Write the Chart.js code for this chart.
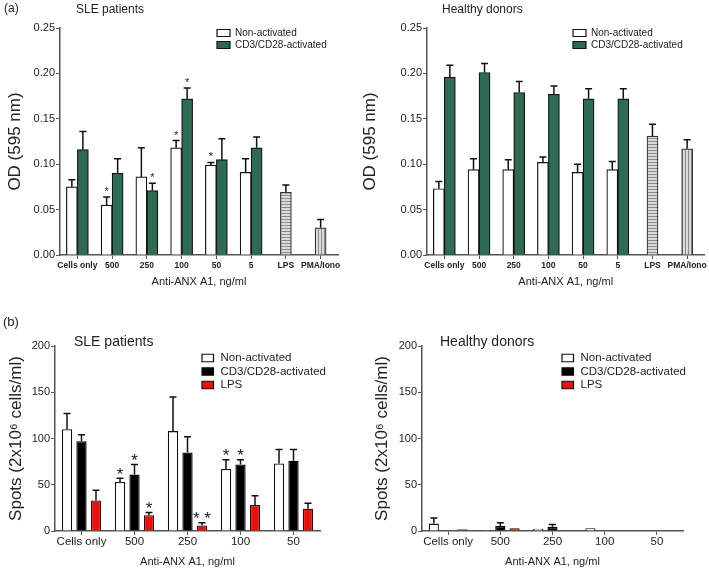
<!DOCTYPE html>
<html>
<head>
<meta charset="utf-8">
<script src="https://cdn.jsdelivr.net/npm/chart.js@4.4.0/dist/chart.umd.min.js"></script>
<style>
    body { margin: 0; background: #fff; }
    #fig { position: relative; width: 709px; height: 574px; }
    #fig canvas { position: absolute; }
</style>
</head>
<body>
<div id="fig">
    <canvas id="odSle" width="355" height="290" style="left:0;top:0"></canvas>
    <canvas id="odHealthy" width="354" height="290" style="left:355px;top:0"></canvas>
    <canvas id="spotSle" width="355" height="284" style="left:0;top:290px"></canvas>
    <canvas id="spotHealthy" width="354" height="284" style="left:355px;top:290px"></canvas>
</div>
<script>
// Categories
const odLabels = ['Cells only', '500', '250', '100', '50', '5', 'LPS', 'PMA/Iono'];
const spotLabels = ['Cells only', '500', '250', '100', '50'];

// (a) OD 595 nm - SLE patients
const sleOdNon = [0.075, 0.055, 0.086, 0.118, 0.099, 0.091, null, null];
const sleOdNonErr = [0.008, 0.009, 0.032, 0.008, 0.003, 0.015, null, null];
const sleOdNonStars = ['', '*', '', '*', '*', '', '', ''];
const sleOdAct = [0.116, 0.090, 0.071, 0.172, 0.105, 0.118, null, null];
const sleOdActErr = [0.020, 0.016, 0.008, 0.012, 0.023, 0.012, null, null];
const sleOdActStars = ['', '', '*', '*', '', '', '', ''];
const sleOdCtrl = [null, null, null, null, null, null, 0.069, 0.030];
const sleOdCtrlErr = [null, null, null, null, null, null, 0.008, 0.009];

// (a) OD 595 nm - healthy donors
const hdOdNon = [0.073, 0.094, 0.094, 0.102, 0.091, 0.094, null, null];
const hdOdNonErr = [0.008, 0.012, 0.011, 0.006, 0.009, 0.009, null, null];
const hdOdAct = [0.196, 0.201, 0.179, 0.177, 0.172, 0.172, null, null];
const hdOdActErr = [0.013, 0.010, 0.012, 0.009, 0.011, 0.011, null, null];
const hdOdCtrl = [null, null, null, null, null, null, 0.131, 0.117];
const hdOdCtrlErr = [null, null, null, null, null, null, 0.013, 0.010];

// (b) Spots - SLE patients
const sleSpotNon = [110, 53, 108, 67, 73];
const sleSpotNonErr = [17, 4, 37, 10, 15];
const sleSpotNonStars = ['', '*', '', '*', ''];
const sleSpotAct = [97, 61, 85, 72, 76];
const sleSpotActErr = [7, 11, 17, 5, 12];
const sleSpotActStars = ['', '*', '', '*', ''];
const sleSpotLps = [33, 17, 6, 28, 24];
const sleSpotLpsErr = [11, 3, 3, 10, 6];
const sleSpotLpsStars = ['', '*', '**', '', ''];

// (b) Spots - healthy donors
const hdSpotNon = [8, 1, 2.5, 3, 0];
const hdSpotNonErr = [6, 0, 0, 0, 0];
const hdSpotAct = [0, 5.5, 4.5, 0, 0];
const hdSpotActErr = [0, 3.5, 2.5, 0, 0];
const hdSpotLps = [2, 3, 0, 0, 0];
const hdSpotLpsErr = [0, 0, 0, 0, 0];

const odTicks = [0, 0.05, 0.10, 0.15, 0.20, 0.25];
const spotTicks = [0, 50, 100, 150, 200];

const FONT = '"Liberation Sans", Arial, sans-serif';
const INK = '#222';
const AXIS = '#555';
const GREEN = '#2f6b52';
const RED = '#e3140f';

Chart.defaults.font.family = FONT;
Chart.defaults.color = INK;

// Upper error bars + significance stars
const errorBars = {
    id: 'errorBars',
    afterDatasetsDraw(chart, args, opts) {
        const ctx = chart.ctx;
        const yScale = chart.scales.y;
        ctx.save();
        chart.data.datasets.forEach((ds, i) => {
            const meta = chart.getDatasetMeta(i);
            meta.data.forEach((bar, j) => {
                const v = ds.data[j];
                if (v == null) return;
                let top = bar.y;
                const e = ds.errors ? ds.errors[j] : 0;
                if (e) {
                    top = yScale.getPixelForValue(v + e);
                    ctx.strokeStyle = '#111';
                    ctx.lineWidth = 1.5;
                    ctx.beginPath();
                    ctx.moveTo(bar.x, bar.y);
                    ctx.lineTo(bar.x, top);
                    ctx.moveTo(bar.x - opts.cap, top);
                    ctx.lineTo(bar.x + opts.cap, top);
                    ctx.stroke();
                }
                const star = ds.stars ? ds.stars[j] : '';
                if (star) {
                    ctx.font = opts.starFont;
                    ctx.fillStyle = INK;
                    ctx.textAlign = 'center';
                    ctx.textBaseline = 'alphabetic';
                    ctx.fillText(star.split('').join(' '), bar.x, top + opts.starDy);
                }
            });
        });
        ctx.restore();
    }
};

// Panel letters, titles and the legend box
const panelDecor = {
    id: 'panelDecor',
    afterDraw(chart, args, opts) {
        const ctx = chart.ctx;
        ctx.save();
        ctx.textAlign = 'left';
        ctx.textBaseline = 'middle';
        ctx.fillStyle = INK;
        (opts.texts || []).forEach(t => {
            ctx.font = t.font;
            ctx.fillText(t.text, t.x, t.y);
        });
        const lg = opts.legend;
        if (lg) {
            lg.items.forEach((it, k) => {
                const cy = lg.y + k * lg.rowH;
                ctx.fillStyle = it.fill;
                ctx.strokeStyle = '#111';
                ctx.lineWidth = 1.2;
                ctx.beginPath();
                ctx.rect(lg.x, cy - lg.boxH / 2, lg.boxW, lg.boxH);
                ctx.fill();
                ctx.stroke();
                ctx.fillStyle = INK;
                ctx.font = lg.font;
                ctx.fillText(it.label, lg.x + lg.boxW + lg.gap, cy);
            });
        }
        ctx.restore();
    }
};

function stripes(ctx, vertical) {
    const c = document.createElement('canvas');
    c.width = 3;
    c.height = 3;
    const g = c.getContext('2d');
    g.fillStyle = '#dadada';
    g.fillRect(0, 0, 3, 3);
    g.fillStyle = '#8c8c8c';
    if (vertical) g.fillRect(0, 0, 1, 3);
    else g.fillRect(0, 0, 3, 1);
    return ctx.createPattern(c, 'repeat');
}

function axisScales(cfg) {
    return {
        x: {
            type: 'category',
            offset: true,
            afterFit: s => { s.height = cfg.xHeight; },
            grid: { display: true, offset: false, drawOnChartArea: false, drawTicks: true, tickLength: 4, color: AXIS },
            border: { display: true, color: AXIS, width: 1.5 },
            ticks: { font: cfg.xFont, padding: cfg.xPad, color: INK, maxRotation: 0, autoSkip: false },
            title: { display: true, text: 'Anti-ANX A1, ng/ml', font: { size: 11 }, color: INK, padding: { top: 0, bottom: cfg.xTitlePad } }
        },
        y: {
            min: cfg.ticks[0],
            max: cfg.ticks[cfg.ticks.length - 1],
            afterFit: s => { s.width = cfg.yWidth; },
            afterBuildTicks: s => { s.ticks = cfg.ticks.map(v => ({ value: v })); },
            grid: { display: true, drawOnChartArea: false, drawTicks: true, tickLength: 4, color: AXIS },
            border: { display: true, color: AXIS, width: 1.5 },
            ticks: { font: { size: 11 }, padding: 1, color: INK, callback: cfg.tickFmt },
            title: { display: true, text: cfg.yTitle, font: { size: 17 }, color: INK, padding: { top: cfg.yTitlePad, bottom: 0 } }
        }
    };
}

function odChart(id, non, nonErr, nonStars, act, actErr, actStars, ctrl, ctrlErr, cfg) {
    const ctx = document.getElementById(id).getContext('2d');
    const ctrlFill = odLabels.map(l => l === 'PMA/Iono' ? stripes(ctx, true) : stripes(ctx, false));
    const common = { barThickness: 11, skipNull: true, borderWidth: 1.2, borderSkipped: 'start' };
    return new Chart(ctx, {
        type: 'bar',
        data: {
            labels: odLabels,
            datasets: [
                { label: 'Non-activated', data: non, errors: nonErr, stars: nonStars, backgroundColor: '#fff', borderColor: '#111', ...common },
                { label: 'CD3/CD28-activated', data: act, errors: actErr, stars: actStars, backgroundColor: GREEN, borderColor: '#111', ...common },
                { label: 'Controls', data: ctrl, errors: ctrlErr, backgroundColor: ctrlFill, borderColor: '#333', ...common }
            ]
        },
        options: {
            responsive: false,
            animation: false,
            layout: { padding: { left: 0, top: 28, right: cfg.right, bottom: 0 } },
            plugins: {
                legend: { display: false },
                tooltip: { enabled: false },
                errorBars: { cap: 3.5, starFont: '11px ' + FONT, starDy: -2 },
                panelDecor: {
                    texts: cfg.texts,
                    legend: {
                        x: cfg.legendX, y: 33, rowH: 12, boxW: 13, boxH: 7, gap: 5, font: '10px ' + FONT,
                        items: [
                            { label: 'Non-activated', fill: '#fff' },
                            { label: 'CD3/CD28-activated', fill: GREEN }
                        ]
                    }
                }
            },
            scales: axisScales({
                xHeight: 35, xFont: { size: 8.5, weight: 'bold' }, xPad: 2, xTitlePad: 1,
                yWidth: cfg.yWidth, ticks: odTicks, tickFmt: v => v.toFixed(2),
                yTitle: 'OD (595 nm)', yTitlePad: 5
            })
        },
        plugins: [errorBars, panelDecor]
    });
}

function spotChart(id, series, cfg) {
    const ctx = document.getElementById(id).getContext('2d');
    const common = { categoryPercentage: 0.82, barPercentage: 0.71, borderWidth: 1.3, borderSkipped: 'start' };
    return new Chart(ctx, {
        type: 'bar',
        data: {
            labels: spotLabels,
            datasets: [
                { label: 'Non-activated', data: series.non, errors: series.nonErr, stars: series.nonStars, backgroundColor: '#fff', borderColor: '#111', ...common },
                { label: 'CD3/CD28-activated', data: series.act, errors: series.actErr, stars: series.actStars, backgroundColor: '#000', borderColor: '#000', ...common },
                { label: 'LPS', data: series.lps, errors: series.lpsErr, stars: series.lpsStars, backgroundColor: RED, borderColor: '#400', ...common }
            ]
        },
        options: {
            responsive: false,
            animation: false,
            layout: { padding: { left: 0, top: 56, right: cfg.right, bottom: 0 } },
            plugins: {
                legend: { display: false },
                tooltip: { enabled: false },
                errorBars: { cap: 3.5, starFont: '17px ' + FONT, starDy: 1.5 },
                panelDecor: {
                    texts: cfg.texts,
                    legend: {
                        x: cfg.legendX, y: 68, rowH: 13.5, boxW: 11.5, boxH: 7.5, gap: 7, font: '11.5px ' + FONT,
                        items: [
                            { label: 'Non-activated', fill: '#fff' },
                            { label: 'CD3/CD28-activated', fill: '#000' },
                            { label: 'LPS', fill: RED }
                        ]
                    }
                }
            },
            scales: axisScales({
                xHeight: 43, xFont: { size: 11.5 }, xPad: 0, xTitlePad: 5.5,
                yWidth: cfg.yWidth, ticks: spotTicks, tickFmt: v => v,
                yTitle: 'Spots (2x10\u2076 cells/ml)', yTitlePad: cfg.yTitlePad
            })
        },
        plugins: [errorBars, panelDecor]
    });
}

document.addEventListener('DOMContentLoaded', () => {
    odChart('odSle', sleOdNon, sleOdNonErr, sleOdNonStars, sleOdAct, sleOdActErr, sleOdActStars, sleOdCtrl, sleOdCtrlErr, {
        yWidth: 60, right: 17, legendX: 217,
        texts: [
            { text: '(a)', x: 4, y: 9, font: '12px ' + FONT },
            { text: 'SLE patients', x: 76, y: 10, font: '12px ' + FONT }
        ]
    });
    odChart('odHealthy', hdOdNon, hdOdNonErr, null, hdOdAct, hdOdActErr, null, hdOdCtrl, hdOdCtrlErr, {
        yWidth: 72, right: 4, legendX: 218,
        texts: [
            { text: 'Healthy donors', x: 87, y: 10, font: '12px ' + FONT }
        ]
    });
    spotChart('spotSle', {
        non: sleSpotNon, nonErr: sleSpotNonErr, nonStars: sleSpotNonStars,
        act: sleSpotAct, actErr: sleSpotActErr, actStars: sleSpotActStars,
        lps: sleSpotLps, lpsErr: sleSpotLpsErr, lpsStars: sleSpotLpsStars
    }, {
        yWidth: 55, right: 35, legendX: 202, yTitlePad: 6,
        texts: [
            { text: '(b)', x: 3, y: 32, font: '13px ' + FONT },
            { text: 'SLE patients', x: 74, y: 52, font: '14px ' + FONT }
        ]
    });
    spotChart('spotHealthy', {
        non: hdSpotNon, nonErr: hdSpotNonErr, nonStars: null,
        act: hdSpotAct, actErr: hdSpotActErr, actStars: null,
        lps: hdSpotLps, lpsErr: hdSpotLpsErr, lpsStars: null
    }, {
        yWidth: 67, right: 26, legendX: 207, yTitlePad: 17,
        texts: [
            { text: 'Healthy donors', x: 85, y: 52, font: '14px ' + FONT }
        ]
    });
});
</script>
</body>
</html>
